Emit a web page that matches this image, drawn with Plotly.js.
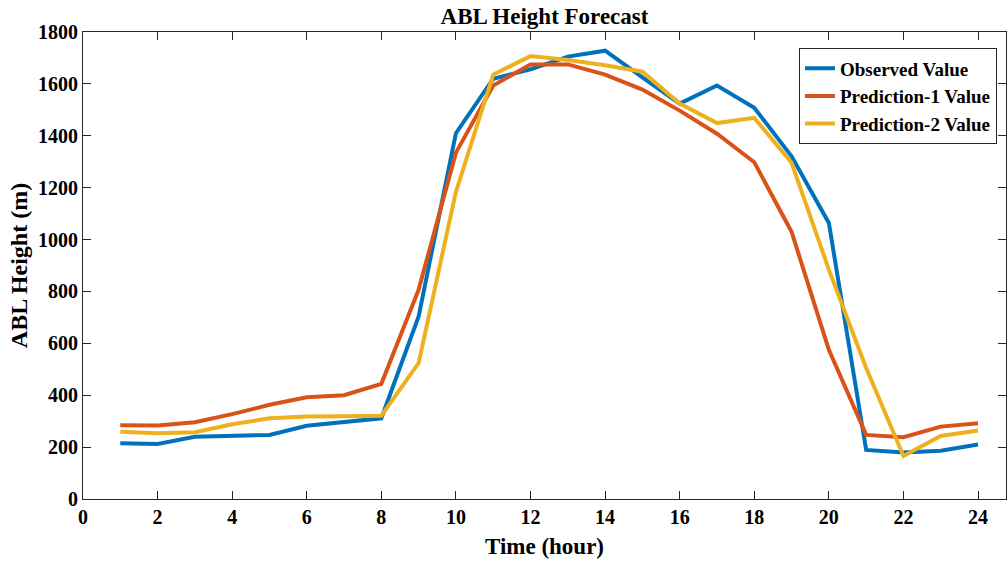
<!DOCTYPE html>
<html>
<head>
<meta charset="utf-8">
<script src="https://cdn.plot.ly/plotly-3.0.1.min.js"></script>
<style>html,body{margin:0;padding:0;background:#fff;}#chart{width:1007px;height:561px;}</style>
</head>
<body>
<div id="chart"></div>
<script>
const hours = [1,2,3,4,5,6,7,8,9,10,11,12,13,14,15,16,17,18,19,20,21,22,23,24];
const observed = [215,212,240,243,247,282,295,311,704,1410,1620,1656,1705,1728,1625,1524,1594,1508,1321,1064,189,179,186,210];
const prediction1 = [284,283,296,327,363,392,400,444,807,1335,1594,1675,1675,1636,1578,1497,1408,1298,1030,575,247,238,279,292];
const prediction2 = [259,253,257,288,311,318,319,321,524,1184,1636,1707,1692,1672,1647,1524,1449,1469,1296,884,505,166,243,264];
const seriesNames = ['Observed Value','Prediction-1 Value','Prediction-2 Value'];
const xTicks = [0,2,4,6,8,10,12,14,16,18,20,22,24];
const yTicks = [0,200,400,600,800,1000,1200,1400,1600,1800];

const colors = ['#0072BD','#D95319','#EDB120'];
const font = 'Liberation Serif, Times New Roman, serif';
const data = [observed, prediction1, prediction2].map((y,i)=>({
  x: hours, y: y, type:'scatter', mode:'lines', name: seriesNames[i],
  line:{color: colors[i], width:4}
}));
const axisCommon = {
  showgrid:false, zeroline:false, showline:true, linecolor:'#262626', linewidth:1,
  mirror:'ticks', ticks:'inside', ticklen:8, tickcolor:'#262626', tickwidth:1,
  tickfont:{family:font, size:20, color:'#000', weight:'bold'}
};
const layout = {
  width:1007, height:561,
  margin:{l:83, r:1, t:32, b:62},
  paper_bgcolor:'#fff', plot_bgcolor:'#fff',
  title:{text:'<b>ABL Height Forecast</b>', font:{family:font, size:23, color:'#000'}, x:0.5, xref:'paper', y:0.972, yanchor:'middle'},
  xaxis: Object.assign({}, axisCommon, {range:[0,24.75], tickvals:xTicks, ticktext:xTicks.map(String),
    title:{text:'<b>Time (hour)</b>', font:{family:font, size:23, color:'#000'}, standoff:10}}),
  yaxis: Object.assign({}, axisCommon, {range:[0,1800], tickvals:yTicks, ticktext:yTicks.map(String),
    title:{text:'<b>ABL Height (m)</b>', font:{family:font, size:24, color:'#000'}, standoff:3}}),
  legend:{x:0.7757, y:0.965, xanchor:'left', yanchor:'top', bordercolor:'#262626', borderwidth:1,
    bgcolor:'#fff', font:{family:font, size:19, color:'#000', weight:'bold'}, tracegroupgap:0, itemwidth:30},
  showlegend:true
};
Plotly.newPlot('chart', data, layout, {displayModeBar:false, staticPlot:true});
</script>
</body>
</html>
